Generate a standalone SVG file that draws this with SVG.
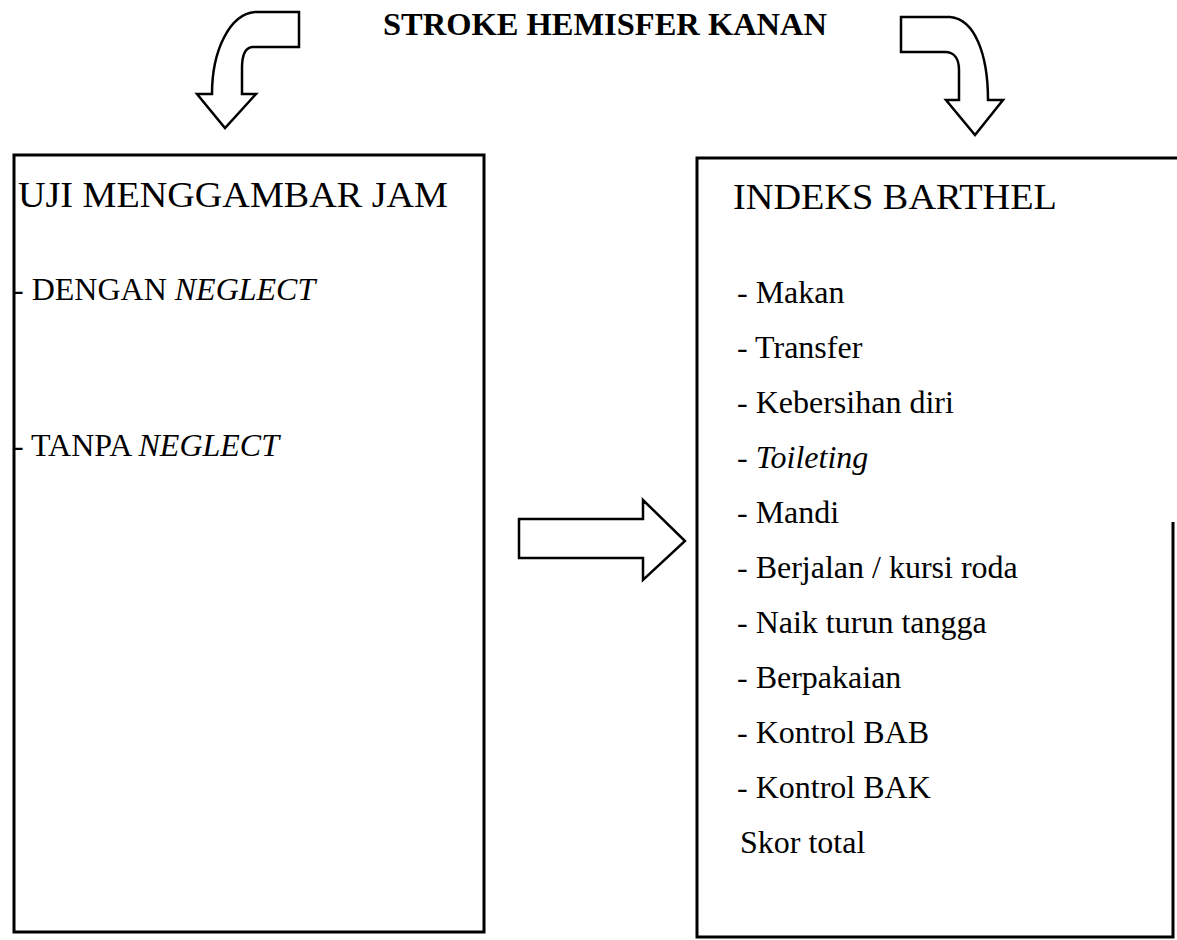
<svg xmlns="http://www.w3.org/2000/svg" width="1177" height="940" viewBox="0 0 1177 940">
<style>
.t{font-family:"Liberation Serif","Times New Roman",serif;fill:#000}
.h{font-size:36px}
.i{font-size:32px}
.arr{fill:#fff;stroke:#000;stroke-width:2.5;stroke-linejoin:miter}
.box{fill:none;stroke:#000;stroke-width:3}
</style>
<rect width="1177" height="940" fill="#fff"/>
<g id="title">
<text class="t" x="383" y="35" font-size="32" font-weight="bold" textLength="444" lengthAdjust="spacingAndGlyphs">STROKE HEMISFER KANAN</text>
</g>
<g id="connectors">
<path class="arr" d="M299,12 L255,12 C230,14 212,50 212,94 L197,94 L225,128 L256,94 L242,94 L242,68 C242,58 244,48 252,47 L299,47 Z"/>
<path class="arr" d="M901,17 L950,17 C975,19 988,55 988,100 L1003,100 L975,135 L946,100 L959,100 L959,70 C959,60 955,52 945,52 L901,52 Z"/>
<path class="arr" d="M519,519 L643,519 L643,500 L685,541 L643,580 L643,558 L519,558 Z"/>
</g>
<g id="node-uji">
<rect class="box" x="14" y="155" width="470" height="777"/>
<text class="t h" x="18" y="207" textLength="430" lengthAdjust="spacingAndGlyphs">UJI MENGGAMBAR JAM</text>
<text class="t i" x="13" y="300">- DENGAN <tspan font-style="italic">NEGLECT</tspan></text>
<text class="t i" x="13" y="456">- TANPA <tspan font-style="italic">NEGLECT</tspan></text>
</g>
<g id="node-barthel">
<path class="box" d="M1177,158 L697,158 L697,937 L1173,937 L1173,522"/>
<text class="t h" x="733" y="209" textLength="324" lengthAdjust="spacingAndGlyphs">INDEKS BARTHEL</text>
<text class="t i" x="737" y="303">- Makan</text>
<text class="t i" x="737" y="358">- Transfer</text>
<text class="t i" x="737" y="413">- Kebersihan diri</text>
<text class="t i" x="737" y="468">- <tspan font-style="italic">Toileting</tspan></text>
<text class="t i" x="737" y="523">- Mandi</text>
<text class="t i" x="737" y="578">- Berjalan / kursi roda</text>
<text class="t i" x="737" y="633">- Naik turun tangga</text>
<text class="t i" x="737" y="688">- Berpakaian</text>
<text class="t i" x="737" y="743">- Kontrol BAB</text>
<text class="t i" x="737" y="798">- Kontrol BAK</text>
<text class="t i" x="740" y="853">Skor total</text>
</g>
</svg>
